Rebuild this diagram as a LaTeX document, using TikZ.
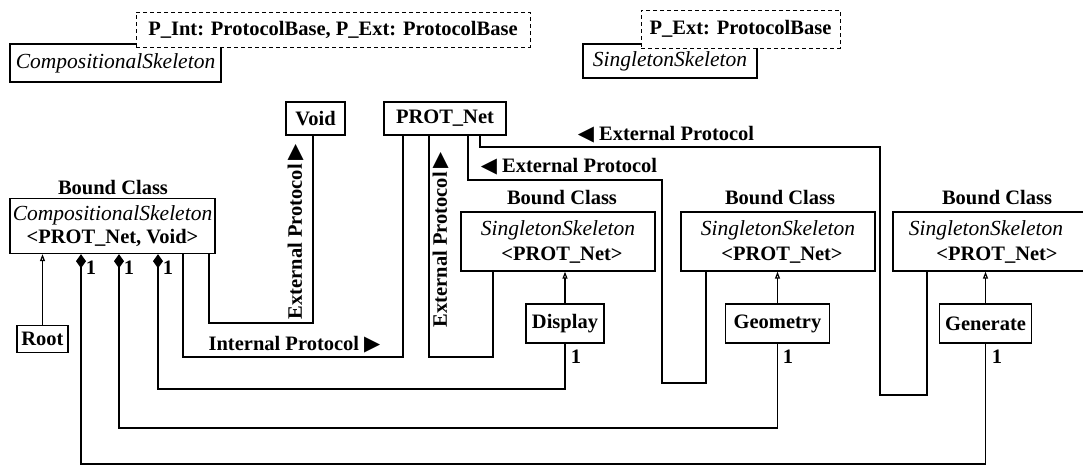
\documentclass[tikz,border=0pt]{standalone}
\usepackage{fontspec}
\setmainfont{Liberation Serif}
\newfontfamily\symfont{DejaVu Sans}
\usetikzlibrary{arrows.meta}
\newcommand\ufont{\fontsize{20.5}{23}\selectfont\bfseries}
\newcommand\ifont{\fontsize{21.5}{23}\selectfont\itshape\mdseries}
\newcommand\rtri{{\symfont\fontsize{21}{21}\selectfont ▶}}
\newcommand\ltri{{\symfont\fontsize{21}{21}\selectfont ◀}}
\begin{document}
\begin{tikzpicture}[x=1pt,y=-1pt,
  box/.style={draw, line width=1.3pt, fill=white, inner sep=0pt, font=\ufont, align=center},
  dbox/.style={draw, line width=1pt, dash pattern=on 4pt off 3pt, fill=white, inner sep=0pt, font=\ufont},
  conn/.style={line width=1.2pt},
  lbl/.style={inner sep=0pt, font=\ufont},
  compo/.style={conn, {Diamond[length=14pt,width=10pt]}-},
  inh/.style={conn, -{Triangle[open,length=7pt,width=5pt]}}]
\fill[white] (0,0) rectangle (1083,467);
\useasboundingbox (0,0) rectangle (1083,467);
% templates
\node[box, minimum width=211pt, minimum height=38pt] (compT) at (115.5,63) {\ifont CompositionalSkeleton};
\node[dbox, minimum width=394pt, minimum height=35pt] (parT) at (333,29.5) {P\_Int: ProtocolBase, P\_Ext: ProtocolBase};
\node[box, minimum width=174pt, minimum height=34pt] (singT) at (670,61) {\ifont SingletonSkeleton};
\node[dbox, minimum width=199pt, minimum height=38pt] (parS) at (740.5,29) {P\_Ext: ProtocolBase};
% parameter classes
\node[box, minimum width=59pt, minimum height=33pt] (void) at (315.5,118.5) {Void};
\node[box, minimum width=122pt, minimum height=33pt] (prot) at (445,118.5) {PROT\_Net};
% bound classes
\node[lbl] (bl0) at (113,188) {Bound Class};
\node[box, minimum width=205pt, minimum height=55pt] (compB) at (112.5,226) {{\ifont CompositionalSkeleton}\\<PROT\_Net, Void>};
\node[lbl] (bl1) at (562,198) {Bound Class};
\node[lbl] (bl2) at (780,198) {Bound Class};
\node[lbl] (bl3) at (997,198) {Bound Class};
\node[box, minimum width=194pt, minimum height=59pt] (sb1) at (558,241.5) {{\ifont SingletonSkeleton}\\[2pt]\hspace*{8pt}<PROT\_Net>};
\node[box, minimum width=194pt, minimum height=59pt] (sb2) at (778,241.5) {{\ifont SingletonSkeleton}\\[2pt]\hspace*{8pt}<PROT\_Net>};
\node[box, minimum width=194pt, minimum height=59pt] (sb3) at (990,241.5) {{\ifont SingletonSkeleton}\hspace*{8pt}\\[2pt]\hspace*{14pt}<PROT\_Net>};
% leaf classes
\node[box, minimum width=51pt, minimum height=27pt] (root) at (42.5,339) {Root};
\node[box, minimum width=78pt, minimum height=39pt] (disp) at (565,323.5) {Display};
\node[box, minimum width=104pt, minimum height=39pt] (geo) at (777.5,323.5) {Geometry};
\node[box, minimum width=92pt, minimum height=39pt] (gen) at (985.5,323.5) {Generate};
% inheritance
\draw[inh] (root) -- (compB.south -| root);
\draw[inh] (disp) -- (sb1.south -| disp);
\draw[inh] (geo) -- (sb2.south -| geo);
\draw[inh] (gen) -- (sb3.south -| gen);
% compositions
\draw[compo] (compB.south -| 81,0) |- (0,464 -| gen.south) -- (gen.south);
\draw[compo] (compB.south -| 119,0) |- (0,428 -| geo.south) -- (geo.south);
\draw[compo] (compB.south -| 158,0) |- (0,389 -| disp.south) -- (disp.south);
% protocols
\draw[conn] (compB.south -| 183,0) |- (0,357 -| 403,0) -- (prot.south -| 403,0);
\draw[conn] (compB.south -| 209,0) |- (0,323 -| 313,0) -- (void.south -| 313,0);
\draw[conn] (prot.south -| 429,0) |- (0,357 -| 493,0) -- (sb1.south -| 493,0);
\draw[conn] (prot.south -| 468,0) |- (0,180 -| 662,0) |- (0,383 -| 706,0) -- (sb2.south -| 706,0);
\draw[conn] (prot.south -| 480,0) |- (0,147 -| 880,0) |- (0,395 -| 927,0) -- (sb3.south -| 927,0);
% labels
\node[lbl, rotate=90] (ep1) at (296,232) {External Protocol\,\rtri};
\node[lbl, rotate=90] (ep2) at (441,240) {External Protocol\,\rtri};
\node[lbl] (ip) at (294.5,345) {Internal Protocol \rtri};
\node[lbl] (ep3) at (569,167) {\ltri\ External Protocol};
\node[lbl] (ep4) at (666,135) {\ltri\ External Protocol};
\node[lbl] (m1) at (91,268) {1};
\node[lbl] (m2) at (129,268) {1};
\node[lbl] (m3) at (168,268) {1};
\node[lbl] (m4) at (576,357) {1};
\node[lbl] (m5) at (788,357) {1};
\node[lbl] (m6) at (997,357) {1};
\end{tikzpicture}
\end{document}
